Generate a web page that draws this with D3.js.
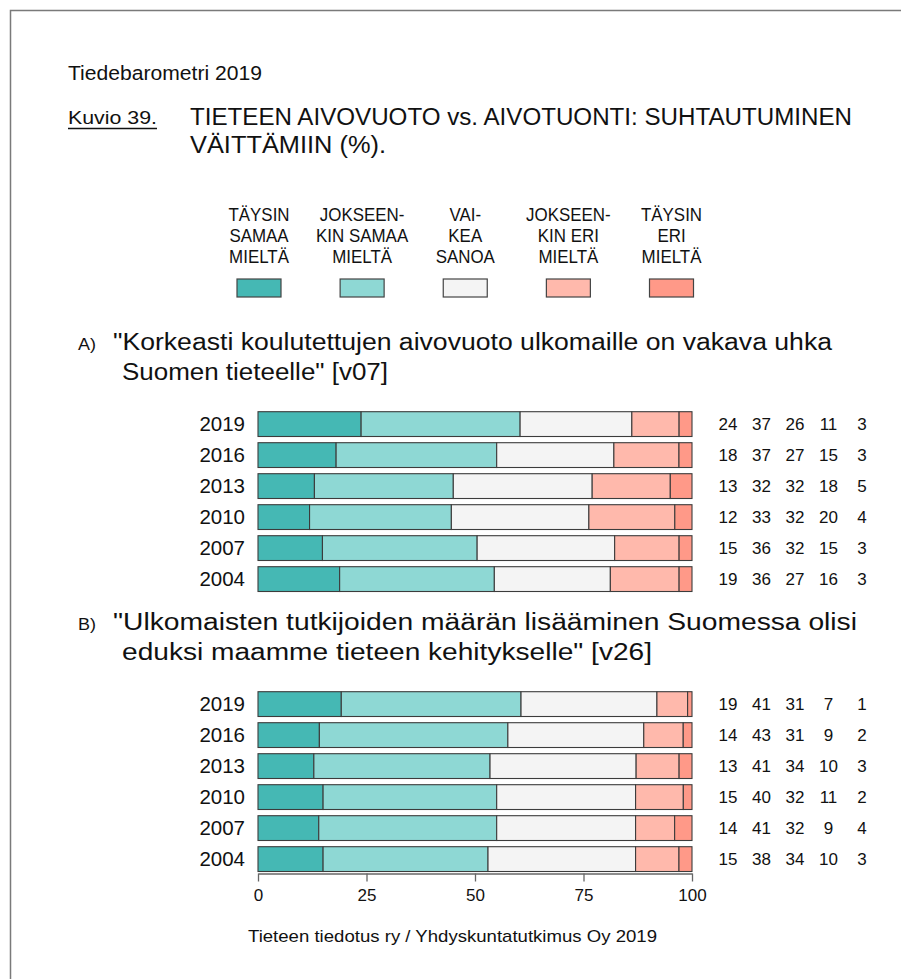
<!DOCTYPE html>
<html>
<head>
<meta charset="utf-8">
<script src="https://cdn.jsdelivr.net/npm/d3@7"></script>
<style>
  html, body { margin: 0; padding: 0; background: #fff; }
  svg { display: block; font-family: "Liberation Sans", Arial, sans-serif; }
</style>
</head>
<body>
<svg id="chart" width="901" height="979"></svg>
<script>
// Response categories (legend order, left to right)
const categories = [
  ["TÄYSIN", "SAMAA", "MIELTÄ"],
  ["JOKSEEN-", "KIN SAMAA", "MIELTÄ"],
  ["VAI-", "KEA", "SANOA"],
  ["JOKSEEN-", "KIN ERI", "MIELTÄ"],
  ["TÄYSIN", "ERI", "MIELTÄ"]
];
const colors = ["#45b8b4", "#8ed8d4", "#f4f4f4", "#ffb9ac", "#ff9988"];

const years = ["2019", "2016", "2013", "2010", "2007", "2004"];

// A) "Korkeasti koulutettujen aivovuoto ..." [v07], % per year
const valuesA = [
  [24, 37, 26, 11, 3],
  [18, 37, 27, 15, 3],
  [13, 32, 32, 18, 5],
  [12, 33, 32, 20, 4],
  [15, 36, 32, 15, 3],
  [19, 36, 27, 16, 3]
];
// B) "Ulkomaisten tutkijoiden määrän lisääminen ..." [v26], % per year
const valuesB = [
  [19, 41, 31, 7, 1],
  [14, 43, 31, 9, 2],
  [13, 41, 34, 10, 3],
  [15, 40, 32, 11, 2],
  [14, 41, 32, 9, 4],
  [15, 38, 34, 10, 3]
];

const axisTicks = [0, 25, 50, 75, 100];

const headerText = "Tiedebarometri 2019";
const figureLabel = "Kuvio 39.";
const titleLines = ["TIETEEN AIVOVUOTO vs. AIVOTUONTI: SUHTAUTUMINEN", "VÄITTÄMIIN (%)."];
const questionA = ["\"Korkeasti koulutettujen aivovuoto ulkomaille on vakava uhka", "Suomen tieteelle\" [v07]"];
const questionB = ["\"Ulkomaisten tutkijoiden määrän lisääminen Suomessa olisi", "eduksi maamme tieteen kehitykselle\" [v26]"];
const sourceText = "Tieteen tiedotus ry / Yhdyskuntatutkimus Oy 2019";

const svg = d3.select("#chart");
const textColor = "#111";

// stretch or squeeze a text run to a given drawn width
function fitWidth(sel, w) {
  sel.attr("textLength", w).attr("lengthAdjust", "spacingAndGlyphs");
}
function squeeze(sel, f) {
  sel.each(function () {
    const w = this.getComputedTextLength();
    d3.select(this).attr("textLength", w * f).attr("lengthAdjust", "spacingAndGlyphs");
  });
}

// page frame
svg.append("path")
  .attr("d", "M10.5,979 V10.5 H901")
  .attr("fill", "none")
  .attr("stroke", "#7a7a7a")
  .attr("stroke-width", 1.5);

// header
svg.append("text").attr("x", 68).attr("y", 80)
  .attr("font-size", 20.5).attr("fill", textColor).text(headerText)
  .call(fitWidth, 194);
svg.append("text").attr("x", 68).attr("y", 124)
  .attr("font-size", 17.5).attr("fill", textColor).text(figureLabel)
  .call(fitWidth, 89);
svg.append("line").attr("x1", 68).attr("x2", 157).attr("y1", 128.5).attr("y2", 128.5)
  .attr("stroke", textColor).attr("stroke-width", 1.3);
const titleWidths = [662, 196];
svg.append("g").selectAll("text").data(titleLines).join("text")
  .attr("x", 190).attr("y", (d, i) => 124.5 + i * 28)
  .attr("font-size", 23).attr("fill", textColor).text(d => d)
  .each(function (d, i) { fitWidth(d3.select(this), titleWidths[i]); });

// legend
const legendX = d3.scalePoint().domain(d3.range(categories.length)).range([259, 671.5]);
const legend = svg.append("g").selectAll("g").data(categories).join("g")
  .attr("transform", (d, i) => `translate(${legendX(i)},0)`);
legend.selectAll("text").data(d => d).join("text")
  .attr("x", 0).attr("y", (d, i) => 221 + i * 21)
  .attr("text-anchor", "middle").attr("font-size", 19).attr("fill", textColor)
  .text(d => d)
  .call(squeeze, 0.89);
legend.append("rect")
  .attr("x", -22).attr("y", 279).attr("width", 44).attr("height", 18)
  .attr("fill", (d, i) => colors[i]).attr("stroke", "#444").attr("stroke-width", 1.2);

// shared horizontal scale
const x = d3.scaleLinear().domain([0, 100]).range([258, 692]);
const valueX = d3.scalePoint().domain(d3.range(5)).range([728, 862]);

function panel(values, top, label, question, qWidths) {
  const g = svg.append("g");
  g.append("text").attr("x", 78).attr("y", top - 59)
    .attr("font-size", 16).attr("fill", textColor).text(label)
    .call(fitWidth, 18);
  g.selectAll("text.q").data(question).join("text").attr("class", "q")
    .attr("x", (d, i) => i === 0 ? 113 : 122).attr("y", (d, i) => top - 59 + i * 30.5)
    .attr("font-size", 23.5).attr("fill", textColor).text(d => d)
    .each(function (d, i) { fitWidth(d3.select(this), qWidths[i]); });

  const y = d3.scaleBand().domain(years).range([top, top + 186])
    .paddingInner(0.2).paddingOuter(0.1);

  const rows = g.selectAll("g.row").data(values).join("g").attr("class", "row")
    .attr("transform", (d, i) => `translate(0,${y(years[i])})`);

  rows.each(function (vals) {
    const total = d3.sum(vals);
    const pct = vals.map(v => v / total * 100);
    const cum = d3.cumsum(pct);
    d3.select(this).selectAll("rect").data(pct).join("rect")
      .attr("x", (d, j) => x(cum[j] - d))
      .attr("width", (d, j) => x(cum[j]) - x(cum[j] - d))
      .attr("y", 0).attr("height", y.bandwidth())
      .attr("fill", (d, j) => colors[j])
      .attr("stroke", "#3c3c3c").attr("stroke-width", 1.1);
  });

  rows.append("text")
    .attr("x", 245).attr("y", y.bandwidth() / 2).attr("dy", "0.35em")
    .attr("text-anchor", "end").attr("font-size", 20.5).attr("fill", textColor)
    .text((d, i) => years[i]);

  rows.selectAll("text.v").data(d => d).join("text").attr("class", "v")
    .attr("x", (d, j) => valueX(j)).attr("y", y.bandwidth() / 2).attr("dy", "0.35em")
    .attr("text-anchor", "middle").attr("font-size", 17).attr("fill", textColor)
    .text(d => d);
  return y;
}

panel(valuesA, 408.6, "A)", questionA, [719, 266]);
panel(valuesB, 688.6, "B)", questionB, [744, 530]);

// axis under panel B
const axis = svg.append("g").attr("transform", "translate(0,873.5)")
  .call(d3.axisBottom(x).tickValues(axisTicks).tickSize(8).tickSizeOuter(0).tickPadding(7));
axis.select(".domain").attr("stroke", "#666").attr("stroke-width", 1.3);
axis.selectAll(".tick line").attr("stroke", "#666").attr("stroke-width", 1.3);
axis.selectAll(".tick text").attr("font-size", 17).attr("fill", textColor)
  .attr("font-family", "Liberation Sans, Arial, sans-serif");

// source line
svg.append("text").attr("x", 452.5).attr("y", 942).attr("text-anchor", "middle")
  .attr("font-size", 17).attr("fill", textColor).text(sourceText)
  .call(fitWidth, 409);
</script>
</body>
</html>
